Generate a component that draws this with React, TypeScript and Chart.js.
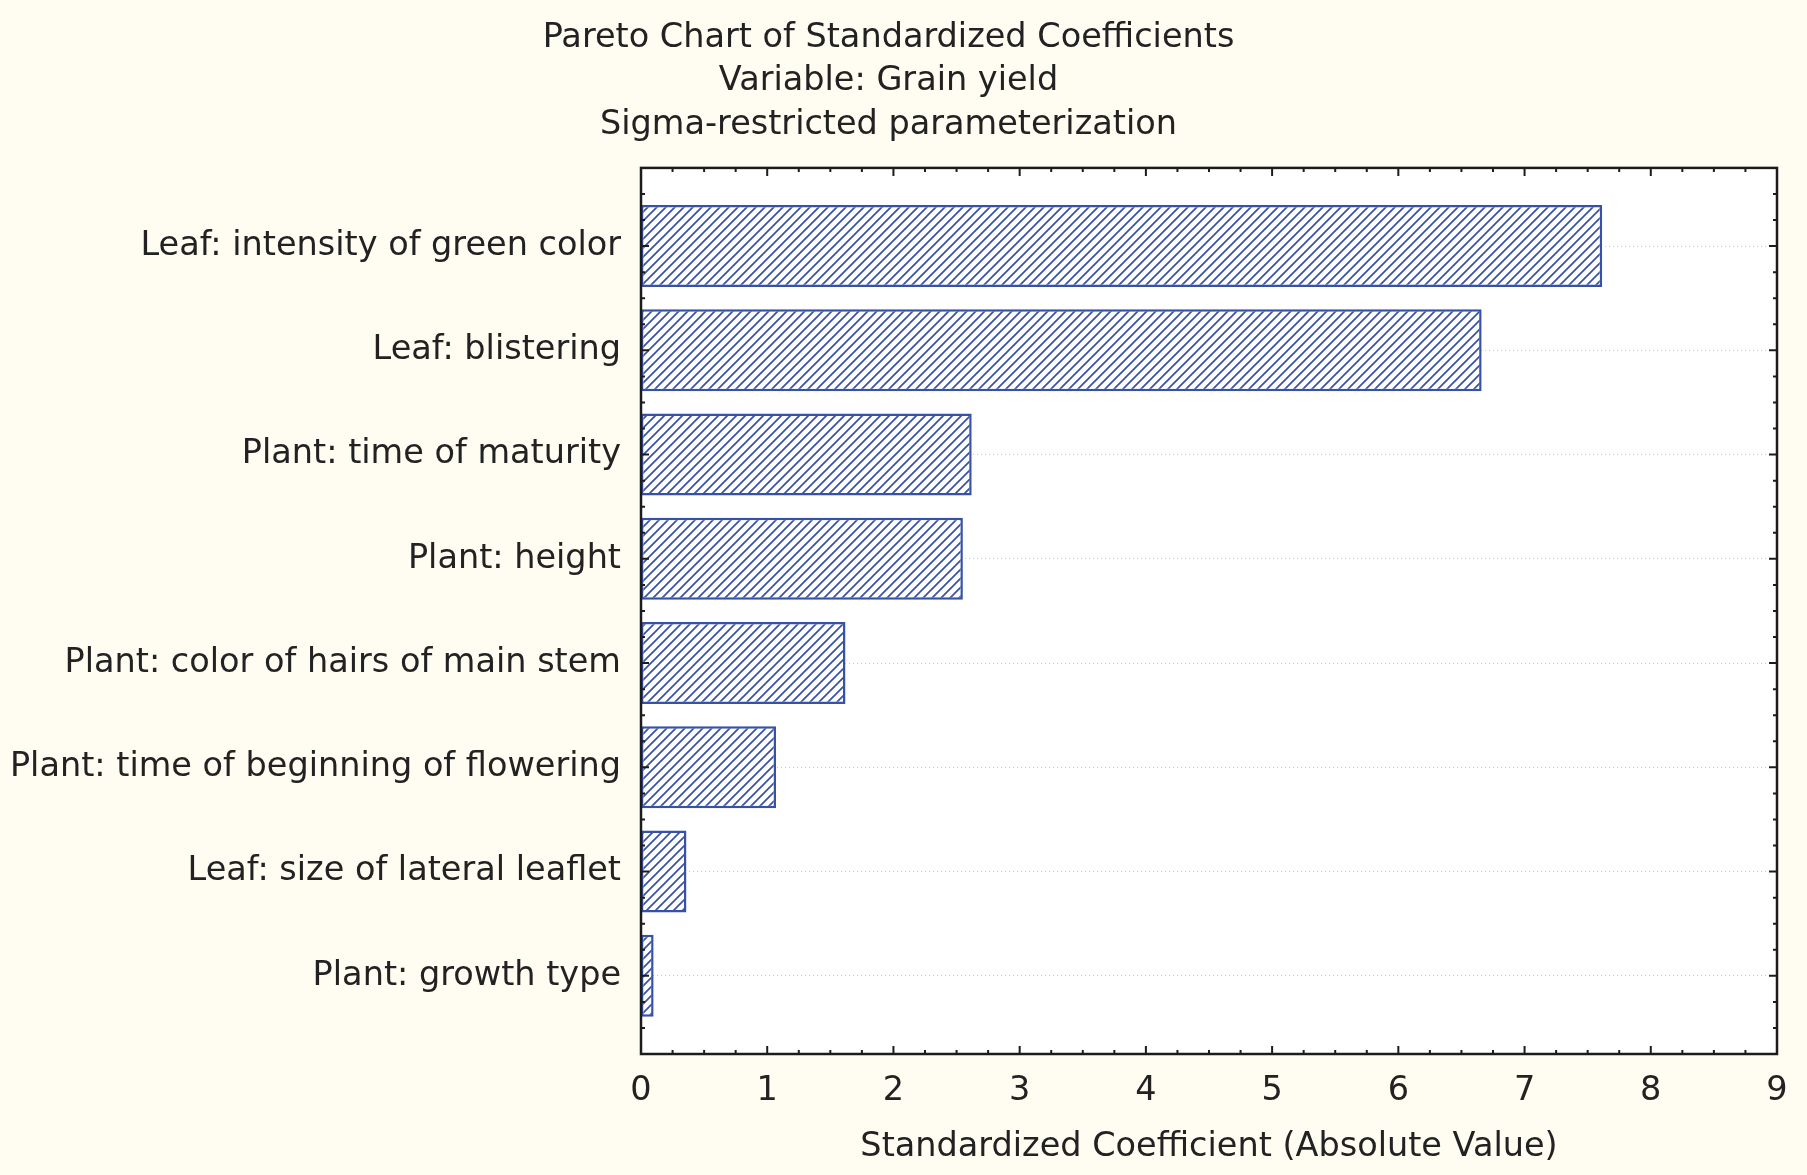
import React, { useEffect, useRef } from "react";
import { Chart, registerables } from "chart.js";

Chart.register(...registerables);

const categories = [
  "Leaf: intensity of green color",
  "Leaf: blistering",
  "Plant: time of maturity",
  "Plant: height",
  "Plant: color of hairs of main stem",
  "Plant: time of beginning of flowering",
  "Leaf: size of lateral leaflet",
  "Plant: growth type",
];
const coefficients = [7.615, 6.66, 2.62, 2.55, 1.62, 1.07, 0.36, 0.1];
const xTicks = [0, 1, 2, 3, 4, 5, 6, 7, 8, 9];
const titleLines = [
  "Pareto Chart of Standardized Coefficients",
  "Variable: Grain yield",
  "Sigma-restricted parameterization",
];
const xAxisTitle = "Standardized Coefficient (Absolute Value)";

const FONT = "'DejaVu Sans', 'Liberation Sans', Arial, sans-serif";
const FS = 33.5;
const TEXT = "#222222";
const BLUE = "#3651a6";
const AXIS = "#1c1c1c";

function makeHatch(): CanvasPattern | string {
  const s = 9;
  const c = document.createElement("canvas");
  c.width = s;
  c.height = s;
  const g = c.getContext("2d");
  if (!g) return "#ffffff";
  g.fillStyle = "#ffffff";
  g.fillRect(0, 0, s, s);
  g.strokeStyle = BLUE;
  g.lineWidth = 1.7;
  g.beginPath();
  g.moveTo(0, s);
  g.lineTo(s, 0);
  g.moveTo(-2, 2);
  g.lineTo(2, -2);
  g.moveTo(s - 2, s + 2);
  g.lineTo(s + 2, s - 2);
  g.stroke();
  const p = g.createPattern(c, "repeat");
  return p || "#ffffff";
}

const framePlugin = {
  id: "frameTicks",
  beforeDraw(chart: any) {
    const { ctx, chartArea: a } = chart;
    ctx.save();
    ctx.fillStyle = "#ffffff";
    ctx.fillRect(a.left, a.top, a.right - a.left, a.bottom - a.top);
    ctx.restore();
  },
  afterDraw(chart: any) {
    const { ctx, chartArea: a, scales } = chart;
    const xs = scales.x;
    const ys = scales.y;
    ctx.save();
    ctx.strokeStyle = AXIS;
    ctx.lineWidth = 2;
    ctx.beginPath();
    for (let j = 0; j <= 36; j++) {
      const v = j / 4;
      const px = xs.getPixelForValue(v);
      const len = j % 4 === 0 ? 8 : 4;
      ctx.moveTo(px, a.bottom);
      ctx.lineTo(px, a.bottom - len);
      ctx.moveTo(px, a.top);
      ctx.lineTo(px, a.top + len);
    }
    for (let j = 0; j <= 32; j++) {
      const v = -0.5 + j / 4;
      const py = ys.getPixelForValue(v);
      const len = (j + 2) % 4 === 0 ? 8 : 4;
      ctx.moveTo(a.left, py);
      ctx.lineTo(a.left + len, py);
      ctx.moveTo(a.right, py);
      ctx.lineTo(a.right - len, py);
    }
    ctx.stroke();
    ctx.lineWidth = 2.5;
    ctx.strokeRect(a.left, a.top, a.right - a.left, a.bottom - a.top);
    ctx.restore();
  },
};

export default function App() {
  const ref = useRef<HTMLCanvasElement | null>(null);

  useEffect(() => {
    if (!ref.current) return;
    const hatch = makeHatch();
    const chart = new Chart(ref.current, {
      type: "bar",
      data: {
        datasets: [
          {
            data: coefficients.map((v, i) => ({ x: v, y: i })),
            backgroundColor: hatch as any,
            borderColor: BLUE,
            borderWidth: 2.5,
            borderSkipped: false,
            barPercentage: 0.786,
            categoryPercentage: 1,
          },
        ],
      },
      options: {
        indexAxis: "y",
        animation: false,
        responsive: true,
        maintainAspectRatio: false,
        layout: { padding: { left: 0, right: 30, top: 0, bottom: 8 } },
        plugins: {
          legend: { display: false },
          tooltip: { enabled: false },
          title: {
            display: true,
            text: titleLines,
            color: TEXT,
            font: { family: FONT, size: FS, weight: "normal", lineHeight: 43.8 / FS },
            padding: { top: 16, bottom: 20.5 },
          },
        },
        scales: {
          x: {
            type: "linear",
            position: "bottom",
            min: 0,
            max: 9,
            offset: false,
            afterBuildTicks: (s: any) => {
              s.ticks = xTicks.map((v) => ({ value: v }));
            },
            afterFit: (s: any) => {
              s.height = 113;
            },
            grid: { display: false, drawTicks: false, offset: false },
            border: { display: false },
            ticks: {
              color: TEXT,
              font: { family: FONT, size: FS },
              padding: 17,
              maxRotation: 0,
              autoSkip: false,
            },
            title: {
              display: true,
              text: xAxisTitle,
              color: TEXT,
              font: { family: FONT, size: FS },
              padding: 0,
            },
          },
          y: {
            type: "linear",
            reverse: true,
            min: -0.75,
            max: 7.75,
            offset: false,
            afterBuildTicks: (s: any) => {
              s.ticks = categories.map((_, i) => ({ value: i }));
            },
            afterFit: (s: any) => {
              s.width = 641;
            },
            grid: {
              display: true,
              offset: false,
              drawTicks: false,
              drawOnChartArea: true,
              color: "#c9c9c9",
              lineWidth: 1,
            },
            border: { display: false, dash: [1, 3] },
            ticks: {
              color: TEXT,
              font: { family: FONT, size: FS },
              padding: 20,
              autoSkip: false,
              callback: (v: any) => categories[Number(v)] ?? "",
            },
          },
        },
      },
      plugins: [framePlugin],
    } as any);
    return () => chart.destroy();
  }, []);

  return (
    <div
      style={{
        position: "fixed",
        left: 0,
        top: 0,
        width: 1807,
        height: 1175,
        background: "#fffcf2",
      }}
    >
      <canvas ref={ref} />
    </div>
  );
}
